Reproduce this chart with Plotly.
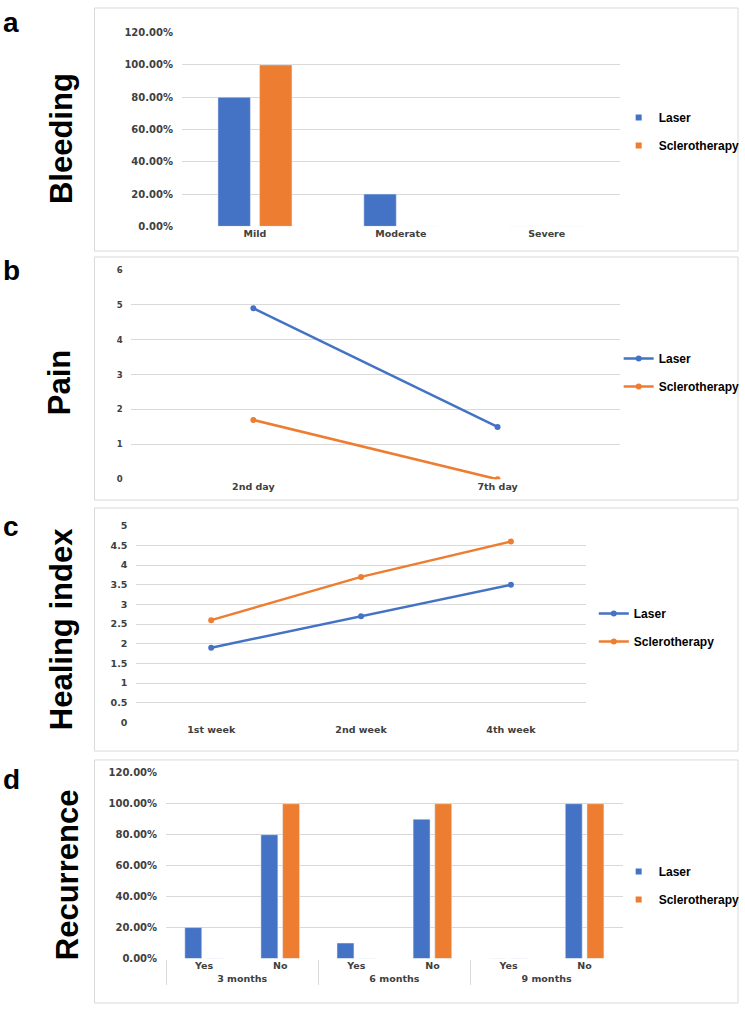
import plotly.graph_objects as go

# values
bleed_cats = ["Mild", "Moderate", "Severe"]
bleed_laser = [0.8, 0.2, 0.0]
bleed_sclero = [1.0, 0.0, 0.0]

pain_days = ["2nd day", "7th day"]
pain_laser = [4.9, 1.5]
pain_sclero = [1.7, 0.0]

heal_weeks = ["1st week", "2nd week", "4th week"]
heal_laser = [1.9, 2.7, 3.5]
heal_sclero = [2.6, 3.7, 4.6]

rec_periods = ["3 months", "3 months", "6 months", "6 months", "9 months", "9 months"]
rec_answers = ["Yes", "No", "Yes", "No", "Yes", "No"]
rec_laser = [0.2, 0.8, 0.1, 0.9, 0.0, 1.0]
rec_sclero = [0.0, 1.0, 0.0, 1.0, 0.0, 1.0]

BLUE = "#4472C4"
ORANGE = "#ED7D31"
GRID = "#d9d9d9"
W, H = 745, 1011


def px(x):
    return x / W


def py(y):
    return 1 - y / H


tick_font = dict(family="DejaVu Sans", size=10, color="#404040", weight="bold")
leg_font = dict(family="Liberation Sans, Arial", size=12, color="black", weight="bold")

fig = go.Figure()

# a - bleeding (bars kept out of the legend, small square keys added instead)
fig.add_trace(go.Bar(x=bleed_cats, y=bleed_laser, name="Laser", marker_color=BLUE,
                     xaxis="x", yaxis="y", showlegend=False))
fig.add_trace(go.Bar(x=bleed_cats, y=bleed_sclero, name="Sclerotherapy", marker_color=ORANGE,
                     xaxis="x", yaxis="y", showlegend=False))
for nm, col, grp in [("Laser", BLUE, "a1"), ("Sclerotherapy", ORANGE, "a2")]:
    fig.add_trace(go.Scatter(x=[None], y=[None], name=nm, mode="markers",
                             marker=dict(symbol="square", size=6, color=col),
                             xaxis="x", yaxis="y", legend="legend", legendgroup=grp))

# b - pain
fig.add_trace(go.Scatter(x=pain_days, y=pain_laser, name="Laser", mode="lines+markers",
                         line=dict(color=BLUE, width=2.5), marker=dict(size=6),
                         xaxis="x2", yaxis="y2", legend="legend2", legendgroup="b1"))
fig.add_trace(go.Scatter(x=pain_days, y=pain_sclero, name="Sclerotherapy", mode="lines+markers",
                         line=dict(color=ORANGE, width=2.5), marker=dict(size=6),
                         xaxis="x2", yaxis="y2", legend="legend2", legendgroup="b2"))

# c - healing index
fig.add_trace(go.Scatter(x=heal_weeks, y=heal_laser, name="Laser", mode="lines+markers",
                         line=dict(color=BLUE, width=2.5), marker=dict(size=6),
                         xaxis="x3", yaxis="y3", legend="legend3", legendgroup="c1"))
fig.add_trace(go.Scatter(x=heal_weeks, y=heal_sclero, name="Sclerotherapy", mode="lines+markers",
                         line=dict(color=ORANGE, width=2.5), marker=dict(size=6),
                         xaxis="x3", yaxis="y3", legend="legend3", legendgroup="c2"))

# d - recurrence
fig.add_trace(go.Bar(x=[rec_periods, rec_answers], y=rec_laser, name="Laser", marker_color=BLUE,
                     xaxis="x4", yaxis="y4", showlegend=False))
fig.add_trace(go.Bar(x=[rec_periods, rec_answers], y=rec_sclero, name="Sclerotherapy", marker_color=ORANGE,
                     xaxis="x4", yaxis="y4", showlegend=False))
for nm, col, grp in [("Laser", BLUE, "d1"), ("Sclerotherapy", ORANGE, "d2")]:
    fig.add_trace(go.Scatter(x=[None], y=[None], name=nm, mode="markers",
                             marker=dict(symbol="square", size=6, color=col),
                             xaxis="x4", yaxis="y4", legend="legend4", legendgroup=grp))

ax_common = dict(showline=False, zeroline=False, tickfont=tick_font, fixedrange=True)
y_common = dict(ax_common, showgrid=True, gridcolor=GRID, gridwidth=1,
                ticks="outside", ticklen=6, tickcolor="rgba(0,0,0,0)")
x_common = dict(ax_common, showgrid=False, ticks="", tickfont=dict(tick_font, size=9.5))

fig.update_layout(
    width=W, height=H,
    margin=dict(l=0, r=0, t=0, b=0),
    paper_bgcolor="white", plot_bgcolor="white",
    barmode="group", bargap=0.43, bargroupgap=0.22,
    xaxis=dict(x_common, domain=[px(183), px(623)], anchor="y"),
    yaxis=dict(y_common, domain=[py(223), py(27)], range=[0, 1.2], dtick=0.2,
               tickformat=".2%", anchor="x"),
    xaxis2=dict(x_common, domain=[px(132), px(623)], anchor="y2", range=[-0.5, 1.5]),
    yaxis2=dict(y_common, domain=[py(479), py(267)], range=[0, 6], dtick=1,
                tickfont=dict(tick_font, size=8.5), anchor="x2"),
    xaxis3=dict(x_common, domain=[px(137), px(589)], anchor="y3", range=[-0.5, 2.5]),
    yaxis3=dict(y_common, domain=[py(725), py(526)], range=[0, 5], dtick=0.5,
                tickfont=dict(tick_font, size=9.5), anchor="x3"),
    xaxis4=dict(x_common, domain=[px(167), px(626)], anchor="y4",
                showdividers=True, dividercolor=GRID, dividerwidth=1),
    yaxis4=dict(y_common, domain=[py(964), py(776)], range=[0, 1.2], dtick=0.2,
                tickformat=".2%", anchor="x4"),
)

legend_pos = [("legend", 622, 127), ("legend2", 622, 371),
              ("legend3", 597, 629), ("legend4", 622, 890)]
for name, xl, yc in legend_pos:
    fig.update_layout({name: dict(x=px(xl), y=py(yc), xanchor="left", yanchor="middle",
                                  font=leg_font, bgcolor="rgba(0,0,0,0)",
                                  traceorder="grouped", tracegroupgap=9, itemwidth=30)})

# panel frames
for top, bottom in [(2, 248), (254, 500), (508, 754), (763, 1009)]:
    fig.add_shape(type="rect", xref="paper", yref="paper",
                  x0=px(95), x1=px(742), y0=py(bottom), y1=py(top),
                  line=dict(color=GRID, width=1))

# panel letters
for letter, yc in [("a", 17), ("b", 268), ("c", 527), ("d", 783)]:
    fig.add_annotation(text=letter, xref="paper", yref="paper", x=px(1), y=py(yc),
                       xanchor="left", yanchor="middle", showarrow=False,
                       font=dict(family="Liberation Sans, Arial", size=28, color="black", weight="bold"))

# big rotated titles
for title, xc, yc in [("Bleeding", 62, 134), ("Pain", 60, 381),
                      ("Healing index", 62, 631), ("Recurrence", 68, 879)]:
    fig.add_annotation(text=title, xref="paper", yref="paper", x=px(xc), y=py(yc),
                       xanchor="center", yanchor="middle", textangle=-90, showarrow=False,
                       font=dict(family="Liberation Sans, Arial", size=31, color="black", weight="bold"))

fig.write_html("out.html", config={"displayModeBar": False},
               post_script="document.body.style.margin='0';document.documentElement.style.overflow='hidden';")
